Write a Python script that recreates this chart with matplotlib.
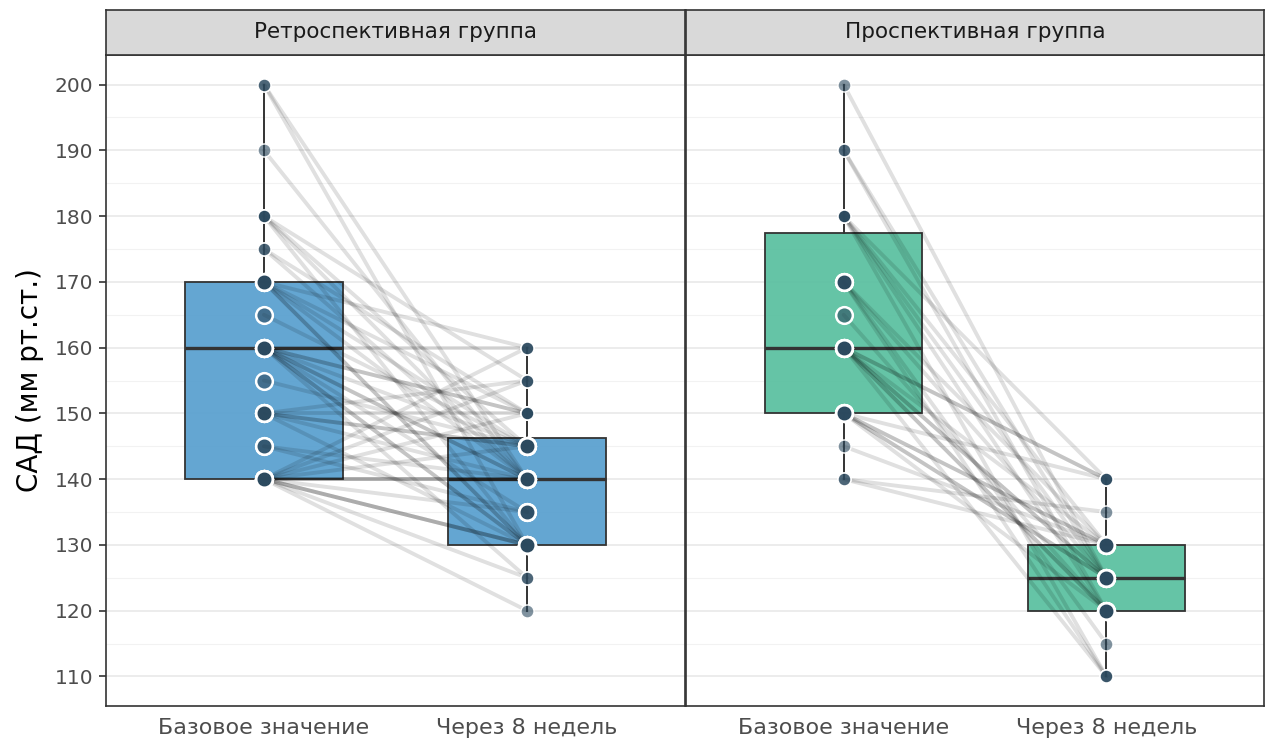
import matplotlib
matplotlib.use("Agg")
import matplotlib.pyplot as plt
import numpy as np

plt.rcParams['font.family'] = ['DejaVu Sans']

# --- data: paired systolic pressure, baseline vs. 8 weeks ---
facet_titles = ["Ретроспективная группа", "Проспективная группа"]
time_labels = ["Базовое значение", "Через 8 недель"]
y_label = "САД (мм рт.ст.)"
y_ticks = [110, 120, 130, 140, 150, 160, 170, 180, 190, 200]

retro_baseline = [140] * 13 + [145] * 2 + [150] * 6 + [155] + [160] * 10 + [165] \
    + [170] * 6 + [175] * 2 + [180] * 4 + [190] + [200] * 2
retro_week8 = [140, 140, 140, 130, 130, 130, 135, 145, 150, 155, 160, 125, 120,   # 140
               140, 135,                                                      # 145
               130, 140, 145, 150, 145, 155,                                  # 150
               145,                                                           # 155
               130, 130, 140, 140, 145, 150, 160, 135, 125, 150,              # 160
               145,                                                           # 165
               140, 130, 145, 150, 160, 130,                                  # 170
               140, 150,                                                      # 175
               130, 140, 145, 155,                                            # 180
               140,                                                           # 190
               130, 140]                                                      # 200

pro_baseline = [140] * 2 + [145] + [150] * 6 + [160] * 8 + [165] + [170] * 4 \
    + [180] * 5 + [190] * 2 + [200]
pro_week8 = [130, 135,                                   # 140
             130,                                        # 145
             130, 125, 140, 120, 125, 130,               # 150
             125, 120, 110, 140, 130, 140, 120, 125,     # 160
             120,                                        # 165
             110, 125, 130, 115,                         # 170
             125, 140, 120, 110, 130,                    # 180
             120, 125,                                   # 190
             125]                                        # 200

groups = [(retro_baseline, retro_week8), (pro_baseline, pro_week8)]
box_colors = ["#579fcf", "#58bf9f"]

# --- figure layout (pixel geometry of a 1269x747 canvas) ---
W, H = 1269, 747
fig = plt.figure(figsize=(W / 100, H / 100), dpi=100)
fig.patch.set_facecolor("white")

panel_x = [(106, 685), (686, 1264)]
panel_top, panel_bottom = 55, 706
strip_top = 10


def frac_rect(x0, x1, ytop, ybot):
    return [x0 / W, 1 - ybot / H, (x1 - x0) / W, (ybot - ytop) / H]


point_color = "#2c4a5f"
edge_dark = "#333333"

for gi, ((base, week), color, title, (x0, x1)) in enumerate(
        zip(groups, box_colors, facet_titles, panel_x)):
    ax = fig.add_axes(frac_rect(x0, x1, panel_top, panel_bottom))
    ax.set_xlim(0.4, 2.6)
    ax.set_ylim(105.5, 204.5)

    # grid
    ax.set_yticks(y_ticks)
    ax.set_yticks(np.arange(115, 200, 10), minor=True)
    ax.grid(axis="y", which="major", color="#ebebeb", lw=1.3, zorder=0)
    ax.grid(axis="y", which="minor", color="#f2f2f2", lw=0.8, zorder=0)
    ax.set_axisbelow(True)

    # boxes
    bp = ax.boxplot([base, week], positions=[1, 2], widths=0.6, whis=1.5,
                    showfliers=False, patch_artist=True, showcaps=False,
                    medianprops=dict(color=edge_dark, lw=2.4),
                    whiskerprops=dict(color=edge_dark, lw=1.4),
                    boxprops=dict(edgecolor=edge_dark, lw=1.3))
    for patch in bp["boxes"]:
        patch.set_facecolor(matplotlib.colors.to_rgba(color, 0.92))
        patch.set_zorder(2)
    for art in bp["whiskers"] + bp["medians"]:
        art.set_zorder(2)

    # paired lines
    for b, w in zip(base, week):
        ax.plot([1, 2], [b, w], color="black", alpha=0.12, lw=2.8,
                solid_capstyle="round", zorder=3)

    # points: larger inside the interquartile range
    for pos, vals in ((1, base), (2, week)):
        q1, q3 = np.percentile(vals, [25, 75])
        v = np.array(vals)
        inside = (v >= q1) & (v <= q3)
        ax.plot(np.full(inside.sum(), pos), v[inside], "o", ms=12,
                mfc=matplotlib.colors.to_rgba(point_color, 0.6),
                mec="white", mew=1.8, ls="none", zorder=4)
        ax.plot(np.full((~inside).sum(), pos), v[~inside], "o", ms=9.4,
                mfc=matplotlib.colors.to_rgba(point_color, 0.6),
                mec="white", mew=1.0, ls="none", zorder=4)

    ax.set_xticks([1, 2])
    ax.set_xticklabels(time_labels, fontsize=16, color="#4d4d4d")
    ax.tick_params(axis="x", length=0, pad=9)
    ax.tick_params(axis="y", which="minor", length=0)
    if gi == 0:
        ax.set_yticklabels([str(t) for t in y_ticks], fontsize=14.5, color="#4d4d4d")
        ax.tick_params(axis="y", which="major", length=5, width=1.2,
                       color=edge_dark, pad=4)
        ax.set_ylabel(y_label, fontsize=20, labelpad=8)
    else:
        ax.tick_params(axis="y", which="major", length=0, labelleft=False)
    for sp in ax.spines.values():
        sp.set_color(edge_dark)
        sp.set_linewidth(1.2)

    # facet strip
    sax = fig.add_axes(frac_rect(x0, x1, strip_top, panel_top))
    sax.set_facecolor("#d9d9d9")
    sax.set_xticks([])
    sax.set_yticks([])
    for sp in sax.spines.values():
        sp.set_color(edge_dark)
        sp.set_linewidth(1.2)
    sax.text(0.5, 0.5, title, transform=sax.transAxes, ha="center",
             va="center", fontsize=15.5, color="#1a1a1a")

fig.savefig("out.png", dpi=100, facecolor="white")
